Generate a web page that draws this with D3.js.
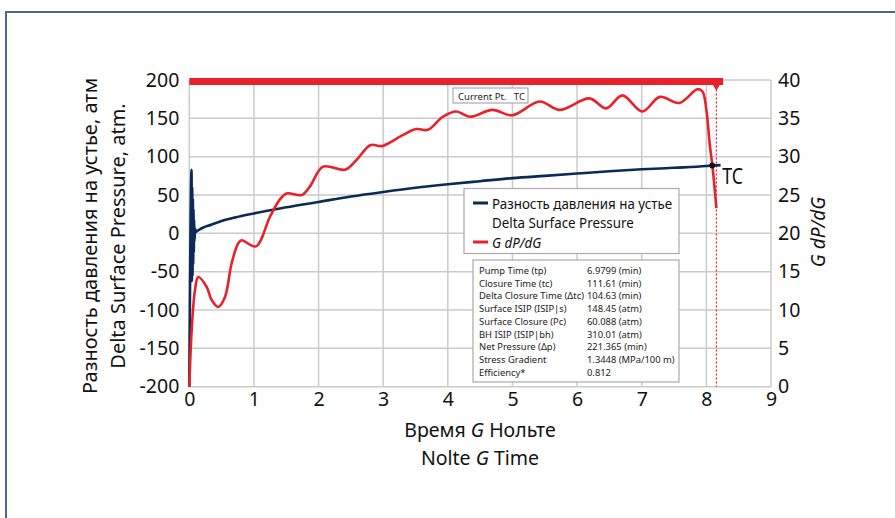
<!DOCTYPE html>
<html>
<head>
<meta charset="utf-8">
<script src="https://cdn.jsdelivr.net/npm/d3@7"></script>
<style>
  html, body { margin: 0; padding: 0; background: #fff; }
  svg { display: block; font-family: "Noto Sans", "Open Sans", sans-serif; }
</style>
</head>
<body>
<svg id="chart" width="895" height="518"></svg>
<script>
// Nolte G time for the surface pressure record
const pressureG = [0, 0.035, 0.04, 0.045, 0.05, 0.055, 0.06, 0.065, 0.07, 0.075, 0.08, 0.09, 0.1, 0.12,
  0.2, 0.33, 0.5, 0.7, 1.0, 1.5, 2.0, 2.5, 3.0, 3.5, 4.0, 4.5, 5.0, 5.5, 6.0, 6.5, 7.0, 7.5, 8.0, 8.09, 8.22];
// Delta surface pressure, atm
const pressureAtm = [-200, 83, -62, 60, -55, 45, -40, 32, -25, 18, -10, 6, 2, 3,
  7, 11, 16, 20.5, 26, 34, 41, 48, 54, 59.5, 64, 68, 72, 75, 78, 81, 83.5, 85.5, 87.8, 88.5, 89];

// Nolte G time for the derivative record
const derivG = [0, 0.037, 0.088, 0.139, 0.269, 0.346, 0.448, 0.552, 0.655, 0.757, 0.81, 1.03, 1.25, 1.4,
  1.505, 1.74, 1.865, 2.07, 2.41, 2.59, 2.8, 2.99, 3.3, 3.51, 3.69, 3.92, 4.13, 4.34, 4.69, 5.0, 5.42,
  5.73, 6.19, 6.45, 6.7, 7.01, 7.28, 7.58, 7.86, 7.94, 8.0, 8.05, 8.1, 8.155];
// G dP/dG
const derivValue = [0, 7.4, 12.6, 14.3, 13.0, 11.3, 10.4, 11.7, 16.1, 18.7, 19.1, 18.3, 22.2, 24.4,
  25.2, 25.0, 26.1, 28.7, 28.3, 29.6, 31.5, 31.4, 32.8, 33.6, 33.5, 35.2, 35.9, 35.2, 36.1, 35.4, 37.2,
  36.1, 37.6, 36.3, 38.0, 35.9, 37.8, 37.0, 38.8, 38.5, 36.1, 31.8, 28.3, 23.3];

// Current-point marker track and closure pick
const currentTrackG = [0, 8.26];
const currentTrackValue = 39.8;
const closureG = 8.09;
const closurePressure = 88.5;
const closureLineG = 8.155;

const xTicks = [0, 1, 2, 3, 4, 5, 6, 7, 8, 9];
const yLeftTicks = [-200, -150, -100, -50, 0, 50, 100, 150, 200];
const yRightTicks = [0, 5, 10, 15, 20, 25, 30, 35, 40];

const statLabels = ["Pump Time (tp)", "Closure Time (tc)", "Delta Closure Time (\u0394tc)",
  "Surface ISIP (ISIP|s)", "Surface Closure (Pc)", "BH ISIP (ISIP|bh)", "Net Pressure (\u0394p)",
  "Stress Gradient", "Efficiency*"];
const statValues = ["6.9799 (min)", "111.61 (min)", "104.63 (min)", "148.45 (atm)", "60.088 (atm)",
  "310.01 (atm)", "221.365 (min)", "1.3448 (MPa/100 m)", "0.812"];

const BLUE = "#0c2a56";
const RED = "#e8212b";
const GRID = "#cbcbcb";

const svg = d3.select("#chart");

// narrow a text run horizontally while keeping its glyph height
function condense(sel, factor) {
  sel.each(function () {
    const w = this.getComputedTextLength();
    d3.select(this).attr("textLength", w * factor).attr("lengthAdjust", "spacingAndGlyphs");
  });
}

// page frame
svg.append("path")
  .attr("d", "M6,518 L6,12 L895,12")
  .attr("fill", "none").attr("stroke", "#4d6790").attr("stroke-width", 2);

const x = d3.scaleLinear().domain([0, 9]).range([189.3, 771]);
const yL = d3.scaleLinear().domain([-200, 200]).range([386.7, 80]);
const yR = d3.scaleLinear().domain([0, 40]).range([386.7, 80]);

// grid
const grid = svg.append("g");
grid.selectAll("line.v").data(xTicks).join("line")
  .attr("x1", d => x(d)).attr("x2", d => x(d))
  .attr("y1", yL(200)).attr("y2", yL(-200))
  .attr("stroke", GRID).attr("stroke-width", 1.5);
grid.selectAll("line.h").data(yLeftTicks).join("line")
  .attr("x1", x(0)).attr("x2", x(9))
  .attr("y1", d => yL(d)).attr("y2", d => yL(d))
  .attr("stroke", GRID).attr("stroke-width", 1.5);

// axes (labels only, gridlines act as axis lines)
const plain = d => String(d);
const axisBottom = svg.append("g").attr("transform", `translate(0,${yL(-200)})`)
  .call(d3.axisBottom(x).tickValues(xTicks).tickSize(0).tickPadding(5).tickFormat(plain));
const axisLeft = svg.append("g").attr("transform", `translate(${x(0)},0)`)
  .call(d3.axisLeft(yL).tickValues(yLeftTicks).tickSize(0).tickPadding(10).tickFormat(plain));
const axisRight = svg.append("g").attr("transform", `translate(${x(9)},0)`)
  .call(d3.axisRight(yR).tickValues(yRightTicks).tickSize(0).tickPadding(7).tickFormat(plain));
[axisBottom, axisLeft, axisRight].forEach(a => {
  a.select(".domain").remove();
  a.selectAll("text").attr("font-size", 19.5).attr("fill", "#111")
    .attr("font-family", "'Noto Sans', sans-serif");
});

// axis titles
svg.append("text").attr("transform", "translate(97,236) rotate(-90)")
  .attr("text-anchor", "middle").attr("font-size", 20).attr("fill", "#111")
  .text("Разность давления на устье, атм");
svg.append("text").attr("transform", "translate(125,236) rotate(-90)")
  .attr("text-anchor", "middle").attr("font-size", 20).attr("fill", "#111")
  .text("Delta Surface Pressure, atm.");
svg.append("text").attr("transform", "translate(825,232) rotate(-90)")
  .attr("text-anchor", "middle").attr("font-size", 19).attr("fill", "#111")
  .attr("font-style", "italic").text("G dP/dG");

const bt1 = svg.append("text").attr("x", 480).attr("y", 437)
  .attr("text-anchor", "middle").attr("font-size", 19.5).attr("fill", "#111");
bt1.append("tspan").text("Время ");
bt1.append("tspan").attr("font-style", "italic").text("G");
bt1.append("tspan").text(" Нольте");
const bt2 = svg.append("text").attr("x", 480).attr("y", 465)
  .attr("text-anchor", "middle").attr("font-size", 19.5).attr("fill", "#111");
bt2.append("tspan").text("Nolte ");
bt2.append("tspan").attr("font-style", "italic").text("G");
bt2.append("tspan").text(" Time");

// closure dotted line
svg.append("line")
  .attr("x1", x(closureLineG)).attr("x2", x(closureLineG))
  .attr("y1", yR(currentTrackValue)).attr("y2", yR(0))
  .attr("stroke", RED).attr("stroke-width", 1.2).attr("stroke-dasharray", "2,2");

// current point track along the top
svg.append("line")
  .attr("x1", x(currentTrackG[0])).attr("x2", x(currentTrackG[1]))
  .attr("y1", yR(currentTrackValue)).attr("y2", yR(currentTrackValue))
  .attr("stroke", RED).attr("stroke-width", 7);
svg.append("path")
  .attr("d", d3.symbol(d3.symbolTriangle, 70)())
  .attr("transform", `translate(${x(closureLineG)},${yR(currentTrackValue) + 2}) rotate(180)`)
  .attr("fill", RED);

// Current Pt. tag
const tag = svg.append("g");
tag.append("rect").attr("x", 453).attr("y", 88).attr("width", 75).attr("height", 15)
  .attr("fill", "#fff").attr("stroke", "#999").attr("stroke-width", 1);
tag.append("text").attr("x", 458).attr("y", 99.5).attr("font-size", 9.5).attr("fill", "#222")
  .attr("xml:space", "preserve").text("Current Pt.   TC");

// series
const pressureLine = d3.line()
  .x((d, i) => x(pressureG[i])).y(d => yL(d)).curve(d3.curveMonotoneX);
svg.append("path").datum(pressureAtm)
  .attr("d", pressureLine).attr("fill", "none")
  .attr("stroke", BLUE).attr("stroke-width", 2.6).attr("stroke-linejoin", "round");

const derivLine = d3.line()
  .x((d, i) => x(derivG[i])).y(d => yR(d)).curve(d3.curveCatmullRom.alpha(0.5));
svg.append("path").datum(derivValue)
  .attr("d", derivLine).attr("fill", "none")
  .attr("stroke", RED).attr("stroke-width", 2.6).attr("stroke-linejoin", "round");

// closure point
svg.append("circle").attr("cx", x(closureG)).attr("cy", yL(closurePressure)).attr("r", 3)
  .attr("fill", "#111");
svg.append("text").attr("x", x(closureG) + 10).attr("y", yL(closurePressure) + 19)
  .attr("font-size", 21).attr("fill", "#111").text("TC")
  .call(condense, 0.85);

// legend
const lg = svg.append("g");
lg.append("rect").attr("x", 464).attr("y", 188.5).attr("width", 215).attr("height", 65)
  .attr("fill", "#fff").attr("stroke", "#aaa").attr("stroke-width", 1.2);
lg.append("line").attr("x1", 473).attr("x2", 488).attr("y1", 203).attr("y2", 203)
  .attr("stroke", BLUE).attr("stroke-width", 3);
lg.append("line").attr("x1", 473).attr("x2", 488).attr("y1", 242).attr("y2", 242)
  .attr("stroke", RED).attr("stroke-width", 3);
const legendTexts = lg.append("g").attr("font-size", 15).attr("fill", "#111");
legendTexts.append("text").attr("x", 492).attr("y", 208.5).text("Разность давления на устье");
legendTexts.append("text").attr("x", 492).attr("y", 227.5).text("Delta Surface Pressure");
legendTexts.append("text").attr("x", 492).attr("y", 247.5)
  .attr("font-style", "italic").text("G dP/dG");
legendTexts.selectAll("text").call(condense, 0.89);

// fracture analysis summary
const sb = svg.append("g");
sb.append("rect").attr("x", 473).attr("y", 260).attr("width", 206).attr("height", 122)
  .attr("fill", "#fff").attr("stroke", "#aaa").attr("stroke-width", 1.2);
sb.selectAll("text.l").data(statLabels).join("text").attr("class", "l")
  .attr("x", 479).attr("y", (d, i) => 274 + i * 12.7)
  .attr("font-size", 9.4).attr("fill", "#222").text(d => d);
sb.selectAll("text.v").data(statValues).join("text").attr("class", "v")
  .attr("x", 587).attr("y", (d, i) => 274 + i * 12.7)
  .attr("font-size", 9.4).attr("fill", "#222").text(d => d);
</script>
</body>
</html>
